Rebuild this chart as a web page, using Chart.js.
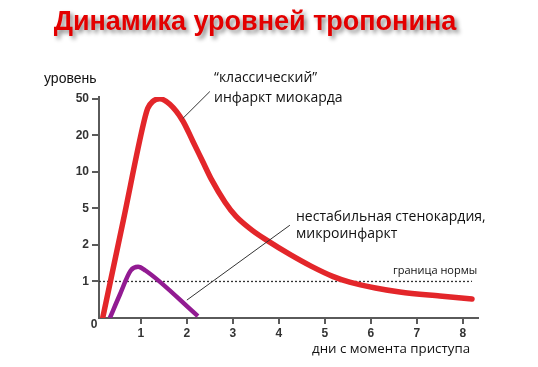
<!DOCTYPE html>
<html>
<head>
<meta charset="utf-8">
<script src="https://cdn.jsdelivr.net/npm/chart.js@4.4.0/dist/chart.umd.min.js"></script>
<style>
html, body { margin: 0; padding: 0; background: #fff; }
#wrap { width: 538px; height: 367px; position: relative; }
</style>
</head>
<body>
<div id="wrap"><canvas id="troponinChart"></canvas></div>
<script>
// Метки оси Y (шкала неравномерная: метки стоят с одинаковым шагом)
const levelTicks = [0, 1, 2, 5, 10, 20, 50];
const dayTicks = [1, 2, 3, 4, 5, 6, 7, 8];

// "классический" инфаркт миокарда
const classicDays   = [0.17, 0.62, 1.065, 1.15, 1.26, 1.41, 1.63, 1.91, 2.13, 2.35, 2.54, 2.83, 3.07, 3.40, 3.76, 4.24, 4.70, 5.17, 5.54, 6.10, 6.63, 7.50, 8.20];
const classicLevels = [0,    4.04, 30.8,  42.2, 47.9, 50,   45.5, 32,   18.4, 12.7, 8.9,  5.85, 4.34, 3.26, 2.33, 1.74, 1.42, 1.14, 0.98, 0.82, 0.71, 0.60, 0.52];

// нестабильная стенокардия, микроинфаркт
const minorDays   = [0.326, 0.54, 0.78, 0.94, 1.10, 2.24];
const minorLevels = [0,     0.63, 1.30, 1.40, 1.30, 0.05];

// граница нормы
const normDays = [0.09, 8.2];
const normLevel = 1;

// перевод уровня в позицию на неравномерной оси (между соседними метками - линейно)
function toPos(v) {
    for (let i = 0; i < levelTicks.length - 1; i++) {
        const a = levelTicks[i], b = levelTicks[i + 1];
        if (v <= b) return i + (v - a) / (b - a);
    }
    return levelTicks.length - 1;
}

function points(days, levels) {
    return days.map((d, i) => ({ x: d, y: toPos(levels[i]) }));
}

const AXIS = '#5a5a5a';
const TICK_FONT = { family: 'Liberation Sans', size: 12, weight: 'bold' };

// подписи и выноски
const labelsPlugin = {
    id: 'labels',
    afterDraw(chart) {
        const ctx = chart.ctx;
        const xs = chart.scales.x, ys = chart.scales.y;
        ctx.save();

        // заголовок с тенью
        ctx.font = 'bold 27px "Liberation Sans"';
        ctx.textAlign = 'center';
        ctx.textBaseline = 'middle';
        ctx.shadowColor = 'rgba(0,0,0,0.45)';
        ctx.shadowBlur = 4;
        ctx.shadowOffsetX = 3;
        ctx.shadowOffsetY = 3;
        ctx.fillStyle = '#e30000';
        ctx.fillText('Динамика уровней тропонина', 255, 23);
        ctx.shadowColor = 'transparent';

        // выноски
        ctx.strokeStyle = '#333';
        ctx.lineWidth = 1;
        const leaders = [[1.91, 5.46, 2.50, 6.20], [2.00, 0.49, 4.24, 2.54]];
        leaders.forEach(l => {
            ctx.beginPath();
            ctx.moveTo(xs.getPixelForValue(l[0]), ys.getPixelForValue(l[1]));
            ctx.lineTo(xs.getPixelForValue(l[2]), ys.getPixelForValue(l[3]));
            ctx.stroke();
        });

        ctx.fillStyle = '#111';
        ctx.textAlign = 'left';
        ctx.font = '14px "Liberation Sans"';
        ctx.fillText('уровень', 44, 79);

        ctx.font = '14px "Open Sans"';
        ctx.fillText('“классический”', 214, 78);
        ctx.fillText('инфаркт миокарда', 214, 98);
        ctx.fillText('нестабильная стенокардия,', 296, 217);
        ctx.fillText('микроинфаркт', 296, 234);
        ctx.font = '13.3px "Open Sans"';
        ctx.fillText('дни с момента приступа', 312, 349);
        ctx.font = '11px "Open Sans"';
        ctx.fillText('граница нормы', 393, 271);

        ctx.fillStyle = '#333';
        ctx.textAlign = 'center';
        ctx.font = 'bold 12px "Liberation Sans"';
        ctx.fillText('0', 94, 325);
        ctx.restore();
    }
};

const ctx = document.getElementById('troponinChart').getContext('2d');
const troponinChart = new Chart(ctx, {
    type: 'line',
    data: {
        datasets: [{
            label: 'классический инфаркт миокарда',
            data: points(classicDays, classicLevels),
            borderColor: '#e3262a',
            borderWidth: 5.5,
            cubicInterpolationMode: 'monotone',
            pointRadius: 0,
            borderCapStyle: 'round',
            borderJoinStyle: 'round'
        }, {
            label: 'нестабильная стенокардия, микроинфаркт',
            data: points(minorDays, minorLevels),
            borderColor: '#921b92',
            borderWidth: 4.5,
            cubicInterpolationMode: 'monotone',
            pointRadius: 0,
            borderJoinStyle: 'round'
        }, {
            label: 'граница нормы',
            data: normDays.map(d => ({ x: d, y: toPos(normLevel) })),
            borderColor: '#333',
            borderWidth: 1.3,
            borderDash: [2, 2],
            pointRadius: 0
        }]
    },
    options: {
        responsive: true,
        maintainAspectRatio: false,
        animation: false,
        layout: { padding: { top: 97, right: 60, left: 0, bottom: 0 } },
        plugins: { legend: { display: false }, tooltip: { enabled: false } },
        scales: {
            x: {
                type: 'linear',
                min: 0.09,
                max: 8.33,
                afterBuildTicks: s => { s.ticks = dayTicks.map(v => ({ value: v })); },
                afterFit: s => { s.height = 49; },
                border: { color: AXIS, width: 2 },
                grid: { drawOnChartArea: false, drawTicks: true, tickLength: 6, color: AXIS, lineWidth: 2 },
                ticks: { color: '#333', font: TICK_FONT, padding: 2 }
            },
            y: {
                type: 'linear',
                min: 0,
                max: 6.05,
                afterBuildTicks: s => { s.ticks = [1, 2, 3, 4, 5, 6].map(v => ({ value: v })); },
                afterFit: s => { s.width = 99; },
                border: { color: AXIS, width: 2 },
                grid: { drawOnChartArea: false, drawTicks: true, tickLength: 7, color: AXIS, lineWidth: 2 },
                ticks: {
                    color: '#333',
                    font: TICK_FONT,
                    padding: 3,
                    callback: v => levelTicks[v]
                }
            }
        }
    },
    plugins: [labelsPlugin]
});
</script>
</body>
</html>
